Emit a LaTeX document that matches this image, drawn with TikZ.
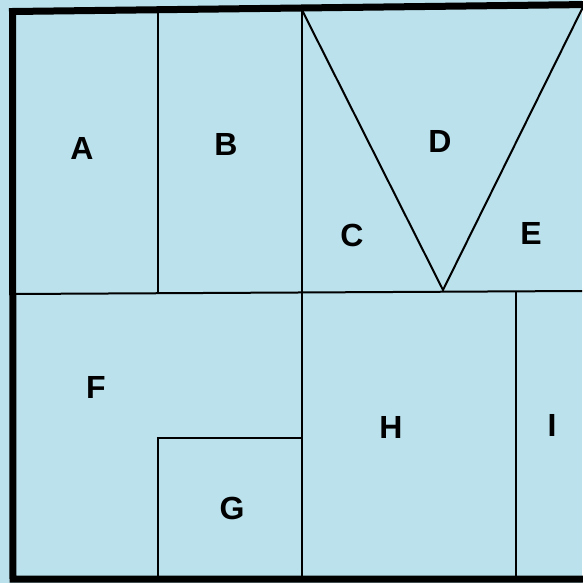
\documentclass[tikz,border=0pt]{standalone}
\usepackage{fontspec}
\setmainfont{Liberation Sans}
\usepackage{xcolor}
\usepackage{tikz}
\definecolor{paper}{RGB}{186,225,236}

\begin{document}
\begin{tikzpicture}[x=1pt,y=-1pt,
 lbl/.style={font=\fontsize{32}{32}\selectfont\bfseries},
 wall/.style={line width=2pt},frame/.style={line width=7pt}]
\fill[paper] (0,0) rectangle (582,583);
\useasboundingbox (0,0) rectangle (582,583);
% inner walls
\draw[wall] (158,11) -- (158,293);
\draw[wall] (302,10) -- (302,580);
\draw[wall] (13,294) -- (582,291);
\draw[wall] (516,292) -- (516,580);
\draw[wall] (158,580) -- (158,438) -- (302,438);
\draw[wall] (302,10) -- (443,290) -- (585,3);
% outer frame
\draw[frame] (590,4.5) -- (12.5,11.5) -- (13,579) -- (590,579);
% labels
\node[lbl] (a) at (82,148) {A};
\node[lbl] (b) at (226,144) {B};
\node[lbl] (c) at (352,235) {C};
\node[lbl] (d) at (440,141) {D};
\node[lbl] (e) at (531,233) {E};
\node[lbl] (f) at (96,387) {F};
\node[lbl] (g) at (232,508) {G};
\node[lbl] (h) at (391,427) {H};
\node[lbl] (i) at (552,425) {I};
\end{tikzpicture}
\end{document}
